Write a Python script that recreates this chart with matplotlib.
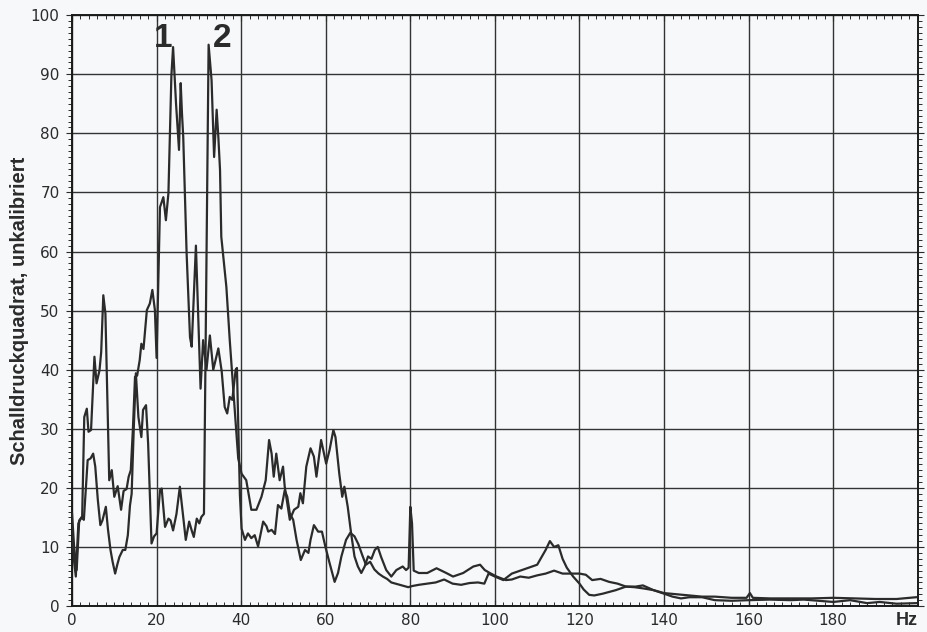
import numpy as np
import matplotlib
matplotlib.use("Agg")
import matplotlib.pyplot as plt
from matplotlib.ticker import MultipleLocator

# =========================
# DATA
# =========================
freq_a = [0.0, 0.5, 1.1, 1.7, 2.4, 2.9, 3.5, 3.9, 4.5, 5.3, 5.8, 6.5, 6.9, 7.4, 7.9,
          8.8, 9.4, 10.0, 10.8, 11.6, 12.2, 12.9, 13.4, 13.9, 14.4, 14.9, 15.4, 16.0,
          16.4, 16.9, 17.7, 18.4, 19.0, 19.6, 20.0, 20.8, 21.6, 22.2, 22.8, 23.5, 23.9,
          24.6, 25.3, 25.7, 26.0, 26.3, 27.1, 27.9, 28.3, 29.3, 30.4, 31.0, 31.8, 32.6,
          33.4, 34.6, 35.4, 36.1, 36.7, 37.3, 37.9, 38.7, 39.0, 39.7, 40.1, 40.9, 41.6,
          42.4, 43.2, 44.0, 45.2, 46.0, 46.4, 47.2, 48.0, 48.7, 49.5, 50.3, 50.9, 51.5,
          52.3, 53.1, 54.1, 55.1, 55.9, 56.4, 57.2, 58.2, 59.1, 59.9, 60.9, 62.1, 62.9,
          63.7, 64.8, 65.8, 66.8, 67.7, 68.7, 69.5, 70.5, 71.5, 72.5, 73.5, 74.5, 75.5,
          76.5, 78.0, 79.5, 80.5, 82.0, 84.0, 86.0, 88.0, 90.0, 92.0, 94.0, 96.0, 97.5,
          98.5, 100.0, 102.0, 104.0, 106.0, 108.0, 110.0, 112.0, 113.0, 114.0, 115.0,
          116.0, 117.0, 118.5, 120.0, 121.0, 122.3, 123.5, 125.5, 128.6, 131.0, 133.3,
          135.0, 137.5, 140.0, 142.0, 144.0, 146.0, 149.0, 152.0, 156.0, 160.0, 165.0,
          170.0, 173.0, 180.0, 184.0, 188.0, 191.0, 195.0, 199.6]
level_a = [15.7, 10.0, 6.1, 14.5, 15.1, 32.0, 33.4, 29.5, 29.8, 42.2, 37.7, 39.9, 43.0,
           52.6, 49.5, 21.3, 23.0, 18.5, 20.3, 16.3, 19.5, 19.8, 21.9, 23.0, 30.0, 38.8,
           39.0, 41.6, 44.4, 43.5, 50.1, 51.2, 53.5, 50.1, 42.0, 67.5, 69.2, 65.3, 69.9,
           89.8, 94.6, 85.0, 77.2, 88.5, 83.4, 79.4, 59.7, 45.5, 43.9, 61.0, 36.8, 45.0,
           40.0, 45.8, 40.0, 43.6, 39.7, 33.7, 32.6, 35.4, 34.9, 40.0, 40.3, 18.8, 13.1,
           11.2, 12.3, 11.5, 12.0, 10.1, 14.3, 13.5, 12.6, 12.9, 12.2, 17.1, 16.5, 19.6,
           18.5, 15.7, 14.6, 11.2, 7.8, 9.5, 9.0, 11.2, 13.7, 12.6, 12.6, 10.1, 7.3, 4.1,
           5.6, 8.4, 11.2, 12.4, 11.8, 10.5, 8.5, 7.0, 7.5, 6.2, 5.5, 5.0, 4.6, 4.0, 3.8,
           3.5, 3.2, 3.4, 3.6, 3.8, 4.0, 4.5, 3.8, 3.6, 3.9, 4.0, 3.8, 5.5, 5.0, 4.4, 5.5,
           6.0, 6.5, 7.0, 9.5, 11.0, 10.0, 10.3, 8.0, 6.5, 5.0, 3.8, 2.8, 1.9, 1.8, 2.1,
           2.7, 3.3, 3.3, 3.5, 2.7, 2.1, 1.6, 1.3, 1.5, 1.5, 1.0, 0.9, 1.0, 1.1, 1.0, 1.1,
           0.7, 1.0, 0.5, 0.7, 0.4, 0.5]

freq_b = [0.0, 0.5, 0.9, 1.5, 2.2, 2.8, 3.7, 4.4, 5.0, 5.5, 6.1, 6.7, 7.2, 8.0, 8.5, 9.1,
          9.6, 10.2, 10.7, 11.2, 12.0, 12.6, 13.2, 13.7, 14.1, 14.6, 15.1, 15.7, 16.4,
          16.8, 17.5, 18.0, 18.8, 19.4, 20.0, 20.8, 21.2, 22.0, 22.8, 23.3, 23.9, 24.7,
          25.5, 26.3, 26.9, 27.7, 28.3, 28.8, 29.5, 30.1, 30.6, 31.2, 32.3, 33.0, 33.6,
          34.2, 34.6, 35.0, 35.3, 36.5, 37.3, 38.3, 39.3, 40.1, 41.2, 42.4, 43.6, 44.8,
          45.8, 46.6, 47.2, 47.7, 48.3, 49.1, 49.9, 50.3, 51.5, 52.5, 53.5, 54.0, 54.6,
          55.4, 56.4, 57.2, 57.8, 58.9, 59.4, 60.1, 60.9, 61.8, 62.3, 63.2, 63.9, 64.4,
          65.2, 66.0, 66.8, 67.6, 68.4, 69.2, 70.0, 70.8, 71.6, 72.3, 73.1, 74.3, 75.5,
          76.7, 78.2, 79.0, 79.6, 80.0, 80.4, 80.8, 82.0, 84.0, 86.2, 88.5, 90.1, 92.5,
          94.9, 96.5, 97.6, 98.8, 100.4, 102.6, 104.0, 106.0, 108.0, 110.0, 112.0, 114.0,
          116.0, 118.0, 120.0, 121.5, 123.0, 125.0, 127.0, 129.0, 131.0, 133.0, 135.0,
          137.5, 140.0, 143.0, 146.0, 149.0, 152.0, 156.0, 159.5, 160.3, 161.0, 165.0,
          170.0, 175.0, 180.0, 185.0, 190.0, 195.0, 199.6]
level_b = [13.0, 7.5, 5.0, 14.0, 15.0, 14.6, 24.7, 25.0, 25.8, 23.6, 18.0, 13.7, 14.5,
           16.8, 13.0, 9.5, 7.5, 5.5, 7.0, 8.3, 9.5, 9.5, 12.0, 17.0, 19.0, 30.0, 39.4,
           32.0, 28.6, 33.2, 34.0, 27.5, 10.6, 11.8, 12.3, 19.6, 19.9, 13.4, 14.8, 14.5,
           12.8, 15.6, 20.2, 15.1, 11.2, 14.3, 12.8, 11.7, 14.8, 14.0, 15.1, 15.6, 95.0,
           89.0, 76.0, 84.0, 79.4, 73.8, 62.5, 54.0, 45.0, 35.0, 25.0, 22.4, 21.3, 16.3,
           16.3, 18.5, 21.3, 28.1, 25.8, 21.9, 25.8, 21.3, 23.6, 20.2, 14.6, 16.3, 16.8,
           19.1, 17.4, 23.6, 26.7, 25.3, 21.9, 28.1, 26.4, 24.1, 26.4, 29.8, 28.6, 22.4,
           18.5, 20.2, 16.8, 12.3, 8.4, 6.7, 5.6, 6.7, 8.4, 8.0, 9.5, 10.0, 8.3, 6.1, 5.0,
           6.1, 6.7, 6.1, 6.5, 16.8, 14.0, 6.0, 5.6, 5.6, 6.4, 5.6, 5.0, 5.6, 6.7, 7.0,
           6.1, 5.6, 5.0, 4.4, 4.5, 5.0, 4.8, 5.2, 5.5, 6.0, 5.5, 5.5, 5.5, 5.3, 4.4, 4.6,
           4.1, 3.8, 3.3, 3.2, 3.0, 2.7, 2.2, 2.0, 1.8, 1.6, 1.6, 1.4, 1.4, 2.2, 1.4, 1.3,
           1.3, 1.3, 1.4, 1.3, 1.2, 1.2, 1.5]

x_ticks = [0, 20, 40, 60, 80, 100, 120, 140, 160, 180]
y_ticks = list(range(0, 101, 10))

# =========================
# PLOT
# =========================
paper = "#f6f8f9"
ink = "#2b2b2b"
bold_font = ["Liberation Sans", "DejaVu Sans"]

fig = plt.figure(figsize=(9.28, 6.32), dpi=100, facecolor=paper)
ax = fig.add_axes([0.0776, 0.041, 0.9114, 0.935], facecolor=paper)

ax.plot(freq_a, level_a, color=ink, lw=1.6, zorder=3)
ax.plot(freq_b, level_b, color=ink, lw=1.6, zorder=3)

ax.set_xlim(0, 200)
ax.set_ylim(0, 100)
ax.set_xticks(x_ticks)
ax.set_yticks(y_ticks)
ax.xaxis.set_minor_locator(MultipleLocator(2))
ax.yaxis.set_minor_locator(MultipleLocator(1))
ax.grid(True, which="major", color="#333333", lw=1.0)

ax.tick_params(which="both", direction="in", top=True, right=True,
               labelsize=11, colors=ink, pad=5)
ax.tick_params(which="major", length=4)
ax.tick_params(which="minor", length=3, width=0.7)
ax.tick_params(axis="y", which="both", direction="out")
for s in ax.spines.values():
    s.set_color("#1a1a1a")
    s.set_linewidth(1.4)

ax.set_ylabel("Schalldruckquadrat, unkalibriert", fontsize=14.5,
              fontweight="bold", color=ink, family=bold_font)
ax.yaxis.set_label_coords(-0.051, 0.5)
ax.text(1.0, -0.024, "Hz", transform=ax.transAxes, ha="right", va="center",
        fontsize=13, fontweight="bold", color=ink, family=bold_font)

# peak markers
ax.text(21.6, 96.0, "1", ha="center", va="center", fontsize=24,
        fontweight="bold", color=ink, family=bold_font)
ax.text(35.5, 96.0, "2", ha="center", va="center", fontsize=24,
        fontweight="bold", color=ink, family=bold_font)

plt.savefig("out.png", dpi=100, facecolor=paper)
